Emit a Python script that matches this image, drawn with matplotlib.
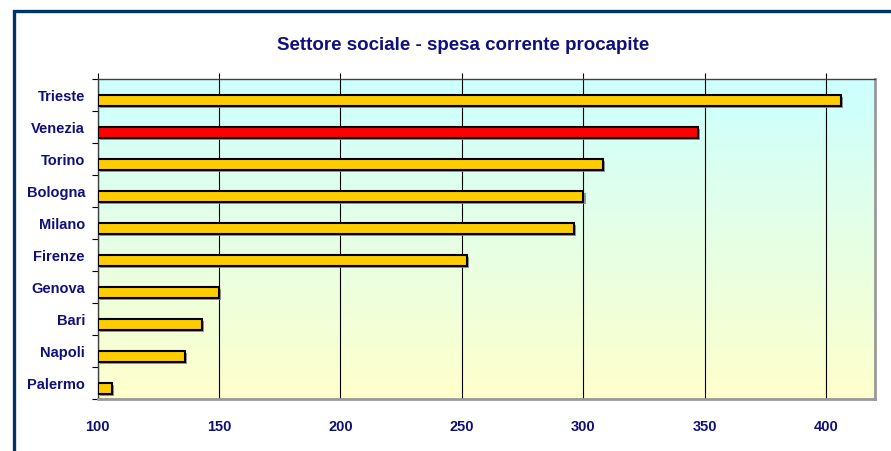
import numpy as np
import matplotlib
matplotlib.use("Agg")
import matplotlib.pyplot as plt
import matplotlib.patheffects as pe
from matplotlib.colors import LinearSegmentedColormap
from matplotlib.patches import Rectangle

plt.rcParams['font.family'] = ['Liberation Sans', 'DejaVu Sans']

# dati
citta = ["Trieste", "Venezia", "Torino", "Bologna", "Milano",
         "Firenze", "Genova", "Bari", "Napoli", "Palermo"]
spesa = [406, 347, 308, 300, 296, 252, 150, 143, 136, 106]
evidenza = "Venezia"

NAVY = "#10107a"
W, H = 891, 452
fig = plt.figure(figsize=(W/100, H/100), dpi=100)
fig.patch.set_facecolor("white")

# cornice esterna blu scuro (esce dal bordo a destra e in basso)
fig.patches.append(Rectangle((14/W, -0.1), 1.2, 1 - 12/H + 0.1, transform=fig.transFigure,
                             fill=False, edgecolor="#003366", lw=2.4, zorder=0))

ax = fig.add_axes([97.5/W, 1 - 400/H, (875 - 97.5)/W, 320/H])
x0, x1 = 100, 420
ax.set_xlim(x0, x1)
ax.set_ylim(9.5, -0.5)

# sfondo sfumato: azzurro in alto, giallo chiaro in basso
cmap = LinearSegmentedColormap.from_list("bg", ["#ccffff", "#ffffcc"])
grad = np.linspace(0, 1, 256).reshape(-1, 1)
ax.imshow(grad, cmap=cmap, aspect="auto", extent=(x0, x1, 9.5, -0.5),
          zorder=0, interpolation="bicubic")

ax.set_xticks(np.arange(100, 401, 50))
ax.grid(axis="x", color="black", lw=0.8, zorder=1)

y = np.arange(len(citta))
colori = ["#ff0000" if c == evidenza else "#ffcc00" for c in citta]
bars = ax.barh(y + 0.165, np.array(spesa) - x0, left=x0, height=0.33,
               color=colori, edgecolor="black", lw=1.5, zorder=3)
for b in bars:
    b.set_path_effects([pe.SimplePatchShadow(offset=(1.5, -1.5), shadow_rgbFace="#808080", alpha=0.8),
                        pe.Normal()])

ax.set_yticks(y)
ax.set_yticklabels(citta)
ax.set_yticks(np.arange(-0.5, 10, 1), minor=True)
ax.tick_params(axis="y", which="major", length=0, pad=9)
ax.tick_params(axis="y", which="minor", length=4.5, width=0.8, direction="out")
ax.tick_params(axis="x", bottom=False, labelbottom=True, top=True, labeltop=False,
               length=4.5, width=0.8, direction="out", pad=10)
for lab in ax.get_xticklabels() + ax.get_yticklabels():
    lab.set_fontweight("bold")
    lab.set_color(NAVY)
    lab.set_fontsize(10.5)

for s in ["left", "top"]:
    ax.spines[s].set_color("#404040")
    ax.spines[s].set_linewidth(1.0)
for s in ["right", "bottom"]:
    ax.spines[s].set_color("#999999")
    ax.spines[s].set_linewidth(2.0)

fig.text(463/W, 1 - 45/H, "Settore sociale - spesa corrente procapite",
         ha="center", va="center", fontsize=13.5, fontweight="bold", color=NAVY)

fig.savefig("out.png", dpi=100)
